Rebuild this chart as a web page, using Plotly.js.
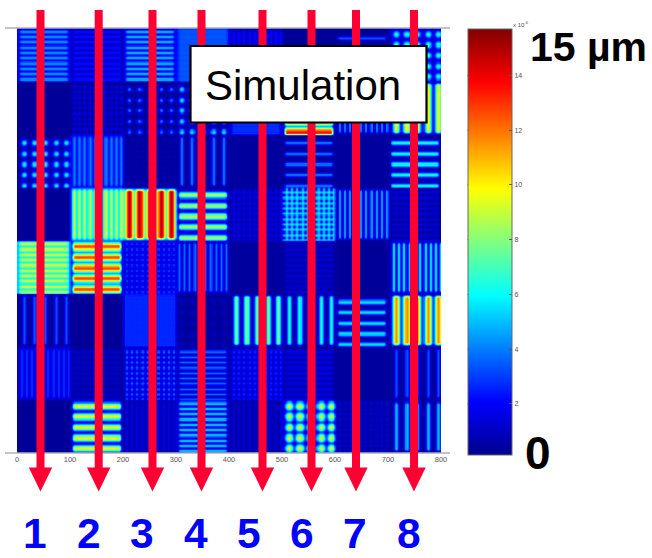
<!DOCTYPE html>
<html><head><meta charset="utf-8">
<script src="https://cdn.plot.ly/plotly-3.0.1.min.js"></script>
<style>html,body{margin:0;padding:0;background:#fff}#c{width:652px;height:558px}</style>
</head><body><div id="c"></div>
<script>
// Each cell of the 8x8 test pattern: H/V = lines, D = dots, G = mesh, F = flat; number = repeats across the 100 unit cell
const cellKinds = [
 ['H10','H10','H10','H20','V10','F','H5+8','D5'],
 ['F','D10','D5','D5','H20','H5','V10','V5'],
 ['D5','V10','D10','V5','F','H5','F','H5'],
 ['F','V10','V5','H5','G10','G10','V10','H10'],
 ['H10','H5','D10','V10','F','H10','F','V10'],
 ['V5','F','G20','D5','V5','V5','H5','V5'],
 ['V10','H10','D10','H10','D10','H10','F','V5'],
 ['F','H5','V10','H10','V10','D5','D10','V5']
];
const cellPeaks = [
 [5.2,2.8,6.0,3.6,2.7,0.4,3.8,7.0],
 [0.3,2.2,4.4,6.2,3.2,14.0,5.4,10.0],
 [6.5,4.6,1.0,4.4,0.4,4.4,0.4,6.5],
 [0.3,10.0,15.0,9.0,1.6,6.2,6.0,1.7],
 [10.0,13.0,3.8,4.6,1.0,1.6,0.3,7.0],
 [3.8,0.3,2.8,1.2,8.0,6.6,6.0,12.0],
 [3.3,1.4,4.9,4.6,3.5,2.1,0.4,3.8],
 [0.3,10.0,1.8,6.5,1.5,10.0,1.9,5.4]
];
const cellBases = [
 [1.8,0.9,1.6,2.5,0.8,0.3,0.3,1.0],
 [0.3,0.4,0.3,0.3,1.5,0.5,0.5,1.0],
 [0.3,2.0,0.3,0.3,0.4,0.3,0.4,0.3],
 [0.3,4.0,3.0,0.5,0.4,1.0,0.5,0.4],
 [5.0,1.5,1.2,0.8,0.4,0.5,0.3,1.0],
 [0.4,0.3,1.8,0.4,0.3,0.3,0.3,0.4],
 [1.2,0.4,0.9,0.6,1.0,0.5,0.4,0.4],
 [0.3,0.5,0.6,1.2,0.5,0.5,0.4,0.4]
];
const colStart = [13,12,11,10,13,13,13,15];
const rowStart = [11,15,16,14,11,15,14,11];
const xTicks = [0,100,200,300,400,500,600,700,800];
const barTicks = [2,4,6,8,10,12,14];
const arrowX = [40.5,98.7,152.5,201.5,262.5,311.5,356,414];
const numberLabels = ['1','2','3','4','5','6','7','8'];
const numberX = [35,89,142,196,249,302,355,409];

const jet = [[0,'rgb(0,0,143)'],[0.125,'rgb(0,0,255)'],[0.375,'rgb(0,255,255)'],[0.625,'rgb(255,255,0)'],[0.875,'rgb(255,0,0)'],[1,'rgb(128,0,0)']];
const zMin = 0.13, zMax = 15.7, step = 2;

function comb(u, n, start, w){
  const p = 100/n;
  const s = n===5 ? start : n===10 ? start-5 : start-7.5;
  let m = 0;
  for(let k=0;k<n;k++){ const d=(u-(s+k*p))/w; m=Math.max(m,Math.exp(-d*d)); }
  return m;
}
function edge(u){ const f=t=>Math.min(1,Math.max(0,t/6)); return f(u-1)*f(99-u); }
function cellValue(r,c,u,v){
  const [k,shift]=cellKinds[r][c].split('+');
  const pk=cellPeaks[r][c], b=cellBases[r][c];
  if(k==='F') return b;
  const n=+k.slice(1), p=100/n, w=Math.max(p===20?3.2:2.4, p*(0.075+0.025*pk));
  const xs=colStart[c], ys=rowStart[r]+(+shift||0);
  let a=0;
  if(k[0]==='H') a=comb(v,n,ys,w)*edge(u);
  if(k[0]==='V') a=comb(u,n,xs,w)*edge(v);
  if(k[0]==='D') a=comb(u,n,xs,w*1.3)*comb(v,n,ys,w*1.3);
  if(k[0]==='G') a=Math.max(comb(u,n,xs,w),comb(v,n,ys,w));
  return b+(pk-b)*a;
}
const xs=[],ys=[];
for(let i=step/2;i<800;i+=step){xs.push(i);ys.push(i);}
let z=ys.map(y=>{
  const r=Math.min(7,Math.floor(y/100));
  return xs.map(x=>{ const c=Math.min(7,Math.floor(x/100)); return cellValue(r,c,x-c*100,y-r*100); });
});
// the source picture is a soft capture: a slight 1-2-1 smoothing in both directions
const N=xs.length, cl=i=>Math.max(0,Math.min(N-1,i));
z=z.map(row=>row.map((v,j)=>(row[cl(j-1)]+2*v+row[cl(j+1)])/4));
z=z.map((row,i)=>row.map((v,j)=>(z[cl(i-1)][j]+2*v+z[cl(i+1)][j])/4));

// page pixels to paper coordinates for the overlay drawing
const L=17,T=28,W=424,H=425;
const px=x=>(x-L)/W, py=y=>1-(y-T)/H;
const red='#FF0033';
const shapes=[];
[28,453].forEach(y=>shapes.push({type:'line',xref:'paper',yref:'paper',x0:px(5),x1:px(450),y0:py(y),y1:py(y),line:{color:'#b0b0b0',width:1.5}}));
arrowX.forEach(x=>{
  shapes.push({type:'rect',xref:'paper',yref:'paper',x0:px(x-4),x1:px(x+4),y0:py(10),y1:py(469),fillcolor:red,line:{width:0}});
  shapes.push({type:'path',xref:'paper',yref:'paper',path:`M ${px(x-11.7)} ${py(467.5)} L ${px(x+11.7)} ${py(467.5)} L ${px(x)} ${py(491.5)} Z`,fillcolor:red,line:{width:0}});
});
const barTop=29,barBot=455;
barTicks.forEach(v=>{const y=barBot-(v-zMin)/(zMax-zMin)*(barBot-barTop);
  shapes.push({type:'line',xref:'paper',yref:'paper',x0:px(467.5),x1:px(471),y0:py(y),y1:py(y),line:{color:'#555',width:1}});});
shapes.push({type:'rect',xref:'paper',yref:'paper',x0:px(190.5),x1:px(426.5),y0:py(46),y1:py(122.5),fillcolor:'#fff',line:{color:'#000',width:2.2}});

const ann=(text,x,y,size,color,bold,anchor)=>({text:bold?`<b>${text}</b>`:text,xref:'paper',yref:'paper',x:px(x),y:py(y),xanchor:anchor||'center',yanchor:'middle',showarrow:false,font:{family:'Liberation Sans, Arial, sans-serif',size,color}});
const annotations=[
  ann('Simulation',302.5,85,42,'#000',false),
  ann('15 µm',528,47,41,'#000',true,'left'),
  ann('0',538,453,46,'#000',true),
  ann('x 10<sup>-6</sup>',511,24,6,'#555',false,'left')
];
numberLabels.forEach((t,i)=>annotations.push(ann(t,numberX[i],533.5,42.5,'#0000FF',true)));

Plotly.newPlot('c',[{
  type:'heatmap',x:xs,y:ys,z:z,zmin:zMin,zmax:zMax,zsmooth:'best',colorscale:jet,
  colorbar:{x:px(467.5),xanchor:'left',y:py(barBot),yanchor:'bottom',
    thicknessmode:'pixels',thickness:43.5,lenmode:'pixels',len:barBot-barTop,xpad:0,ypad:0,
    tickvals:barTicks,ticktext:barTicks.map(String),ticks:'inside',ticklen:3,tickcolor:'#555',
    tickfont:{family:'Liberation Sans, Arial, sans-serif',size:7,color:'#555'},outlinecolor:'#666',outlinewidth:1}
}],{
  width:652,height:558,margin:{l:L,r:652-L-W,t:T,b:558-T-H,pad:0},paper_bgcolor:'#fff',plot_bgcolor:'#fff',showlegend:false,
  xaxis:{range:[0,800],tickvals:xTicks,ticktext:xTicks.map(String),ticks:'',showgrid:false,zeroline:false,showline:false,
    tickfont:{family:'Liberation Sans, Arial, sans-serif',size:7.5,color:'#555'}},
  yaxis:{range:[800,0],showticklabels:false,ticks:'',showgrid:false,zeroline:false,showline:false},
  shapes,annotations
},{displayModeBar:false,staticPlot:true});
</script></body></html>
